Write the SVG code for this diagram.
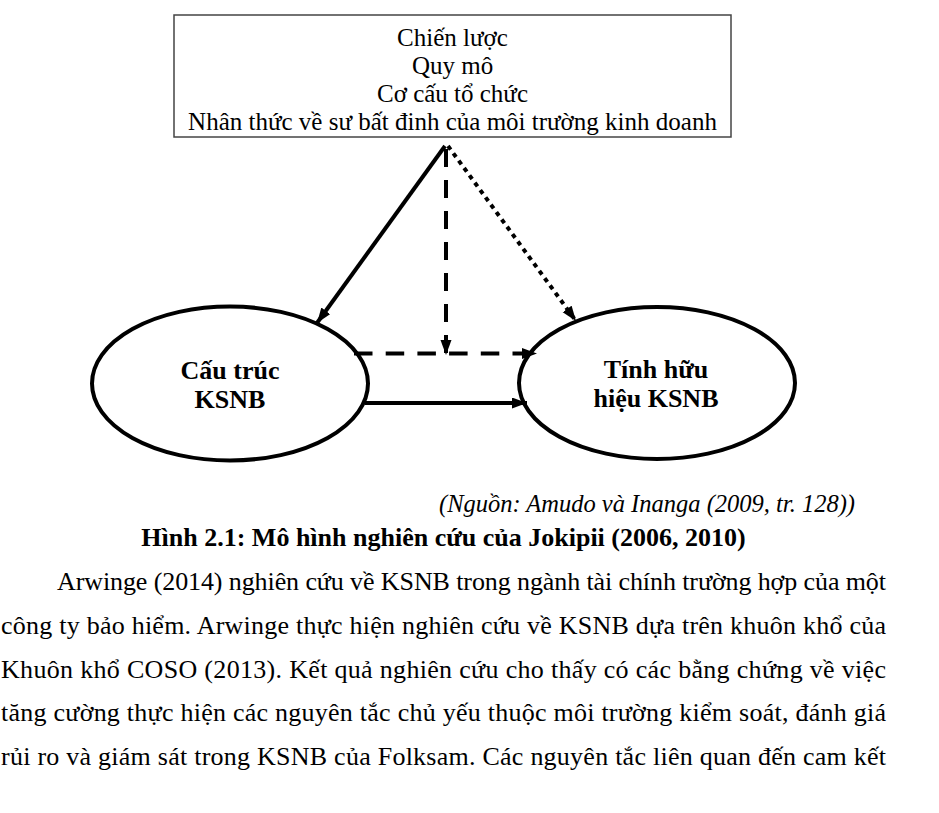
<svg xmlns="http://www.w3.org/2000/svg" width="939" height="813" viewBox="0 0 939 813">
<style>
text{font-family:"Liberation Serif","Times New Roman",serif;fill:#000}
.box{font-size:25px}
.lab{font-size:26px;font-weight:bold}
.src{font-size:24.5px;font-style:italic}
.cap{font-size:26px;font-weight:bold}
.par{font-size:26px}
.ln{fill:none;stroke:#000;stroke-width:4}
.node{fill:none;stroke:#000;stroke-width:4}
</style>
<defs>
<marker id="ah" markerUnits="userSpaceOnUse" markerWidth="16" markerHeight="12" refX="15" refY="5.5" orient="auto">
<path d="M0,0 L15,5.5 L0,11 z" fill="#000"/>
</marker>
</defs>
<rect width="939" height="813" fill="#fff"/>
<g id="factors">
<rect x="174" y="15" width="557" height="122" fill="#fff" stroke="#444" stroke-width="1.5"/>
<text class="box" x="452.5" y="45.5" text-anchor="middle">Chiến lược</text>
<text class="box" x="452.5" y="73.5" text-anchor="middle">Quy mô</text>
<text class="box" x="452.5" y="101.5" text-anchor="middle">Cơ cấu tổ chức</text>
<text class="box" x="452.5" y="129.5" text-anchor="middle">Nhân thức về sư bất đinh của môi trường kinh doanh</text>
</g>
<g id="structure">
<ellipse class="node" cx="230" cy="383.5" rx="138" ry="77"/>
<text class="lab" x="230" y="379" text-anchor="middle">Cấu trúc</text>
<text class="lab" x="230" y="408" text-anchor="middle">KSNB</text>
</g>
<g id="effectiveness">
<ellipse class="node" cx="657" cy="383" rx="138" ry="76"/>
<text class="lab" x="656" y="378" text-anchor="middle">Tính hữu</text>
<text class="lab" x="656" y="407" text-anchor="middle">hiệu KSNB</text>
</g>
<g id="connectors">
<line class="ln" x1="445" y1="146" x2="317" y2="323" marker-end="url(#ah)"/>
<line class="ln" x1="446" y1="149" x2="446" y2="355" stroke-dasharray="18 13" marker-end="url(#ah)"/>
<line class="ln" x1="448" y1="146" x2="576" y2="321" stroke-width="4.5" stroke-dasharray="4.5 4.6" marker-end="url(#ah)"/>
<line class="ln" x1="354" y1="353.5" x2="537" y2="353.5" stroke-dasharray="18.5 13.2" marker-end="url(#ah)"/>
<line class="ln" x1="365" y1="403" x2="527" y2="403" marker-end="url(#ah)"/>
</g>
<text class="src" x="855" y="512" text-anchor="end">(Nguồn: Amudo và Inanga (2009, tr. 128))</text>
<text class="cap" x="443.5" y="546" text-anchor="middle">Hình 2.1: Mô hình nghiên cứu của Jokipii (2006, 2010)</text>
<text class="par" x="57" y="590" textLength="829">Arwinge (2014) nghiên cứu về KSNB trong ngành tài chính trường hợp của một</text>
<text class="par" x="1" y="634" textLength="885">công ty bảo hiểm. Arwinge thực hiện nghiên cứu về KSNB dựa trên khuôn khổ của</text>
<text class="par" x="1" y="677.5" textLength="885">Khuôn khổ COSO (2013). Kết quả nghiên cứu cho thấy có các bằng chứng về việc</text>
<text class="par" x="1" y="721" textLength="885">tăng cường thực hiện các nguyên tắc chủ yếu thuộc môi trường kiểm soát, đánh giá</text>
<text class="par" x="1" y="765" textLength="885">rủi ro và giám sát trong KSNB của Folksam. Các nguyên tắc liên quan đến cam kết</text>
</svg>
